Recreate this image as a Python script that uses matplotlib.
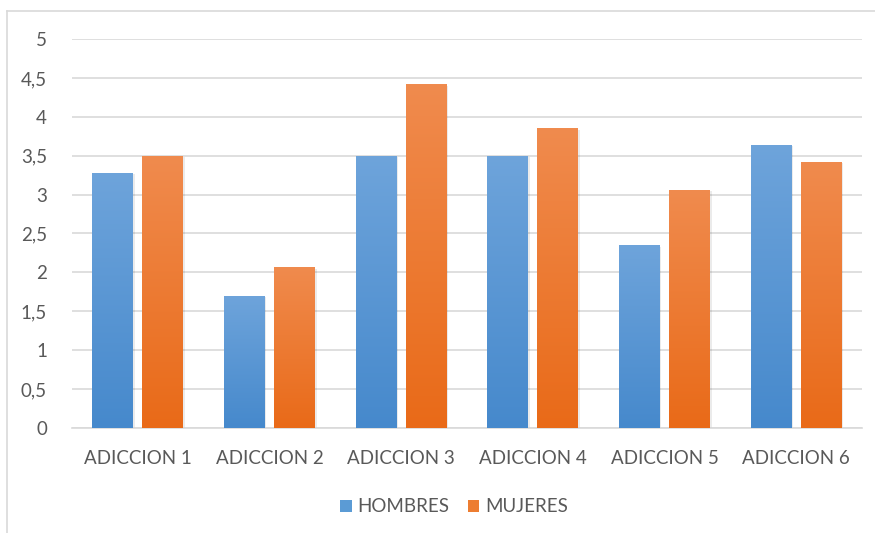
import matplotlib.pyplot as plt
import numpy as np
from matplotlib.colors import LinearSegmentedColormap
from matplotlib.patches import Rectangle
from matplotlib.lines import Line2D

categories = ['ADICCION 1', 'ADICCION 2', 'ADICCION 3', 'ADICCION 4', 'ADICCION 5', 'ADICCION 6']
hombres = [3.28, 1.70, 3.50, 3.50, 2.35, 3.64]
mujeres = [3.50, 2.07, 4.42, 3.85, 3.06, 3.42]
y_ticks = [0, 0.5, 1, 1.5, 2, 2.5, 3, 3.5, 4, 4.5, 5]
y_tick_labels = ['0', '0,5', '1', '1,5', '2', '2,5', '3', '3,5', '4', '4,5', '5']

plt.rcParams['font.family'] = ['Lato', 'DejaVu Sans']
text_color = '#595959'
font_size = 13.5

blue_map = LinearSegmentedColormap.from_list('blue', ['#4689cc', '#6ea4db'])
orange_map = LinearSegmentedColormap.from_list('orange', ['#e96a18', '#f08b4e'])

fig = plt.figure(figsize=(8.75, 5.33), dpi=100)
ax = fig.add_axes([72 / 875, 1 - 428 / 533, 790 / 875, 389 / 533])

# outer chart border (top and left edges visible)
fig.add_artist(Line2D([7 / 875, 1.0], [1 - 11 / 533, 1 - 11 / 533], color='#d9d9d9', lw=1.2))
fig.add_artist(Line2D([7 / 875, 7 / 875], [0.0, 1 - 11 / 533], color='#d9d9d9', lw=1.2))

x = np.arange(len(categories))
width = 0.31
offset = 0.19
gradient = np.linspace(0, 1, 256).reshape(-1, 1)


def gradient_bars(positions, values, cmap):
    for xp, v in zip(positions, values):
        # soft shadow on the right side
        shadow = Rectangle((xp - width / 2 + 0.012, 0), width, v - 0.02,
                           facecolor='#000000', alpha=0.08, edgecolor='none', zorder=2)
        ax.add_patch(shadow)
        rect = Rectangle((xp - width / 2, 0), width, v, facecolor='none',
                         edgecolor='none', zorder=3)
        ax.add_patch(rect)
        im = ax.imshow(gradient, extent=[xp - width / 2, xp + width / 2, 0, v],
                       origin='lower', aspect='auto', cmap=cmap, zorder=3)
        im.set_clip_path(rect)


gradient_bars(x - offset, hombres, blue_map)
gradient_bars(x + offset, mujeres, orange_map)

ax.set_xlim(-0.5, len(categories) - 0.5)
ax.set_ylim(0, 5)
ax.set_yticks(y_ticks)
ax.set_yticklabels(y_tick_labels)
ax.set_xticks(x)
ax.set_xticklabels(categories)
ax.tick_params(axis='both', length=0, labelsize=font_size, colors=text_color)
ax.tick_params(axis='x', pad=16)
ax.tick_params(axis='y', pad=18)

ax.grid(axis='y', color='#d9d9d9', lw=1.2, zorder=0)
ax.set_axisbelow(True)
for side in ['top', 'right', 'left']:
    ax.spines[side].set_visible(False)
ax.spines['bottom'].set_color('#d9d9d9')
ax.spines['bottom'].set_linewidth(1.2)

handles = [Rectangle((0, 0), 1, 1, facecolor='#5b9bd5'),
           Rectangle((0, 0), 1, 1, facecolor='#ed7d31')]
fig.legend(handles, ['HOMBRES', 'MUJERES'], loc='center', bbox_to_anchor=(454 / 875, 1 - 507 / 533),
           ncol=2, frameon=False, fontsize=font_size, labelcolor=text_color,
           handlelength=0.6, handleheight=0.6, handletextpad=0.3, columnspacing=1.0)

fig.savefig('out.png', dpi=100)
